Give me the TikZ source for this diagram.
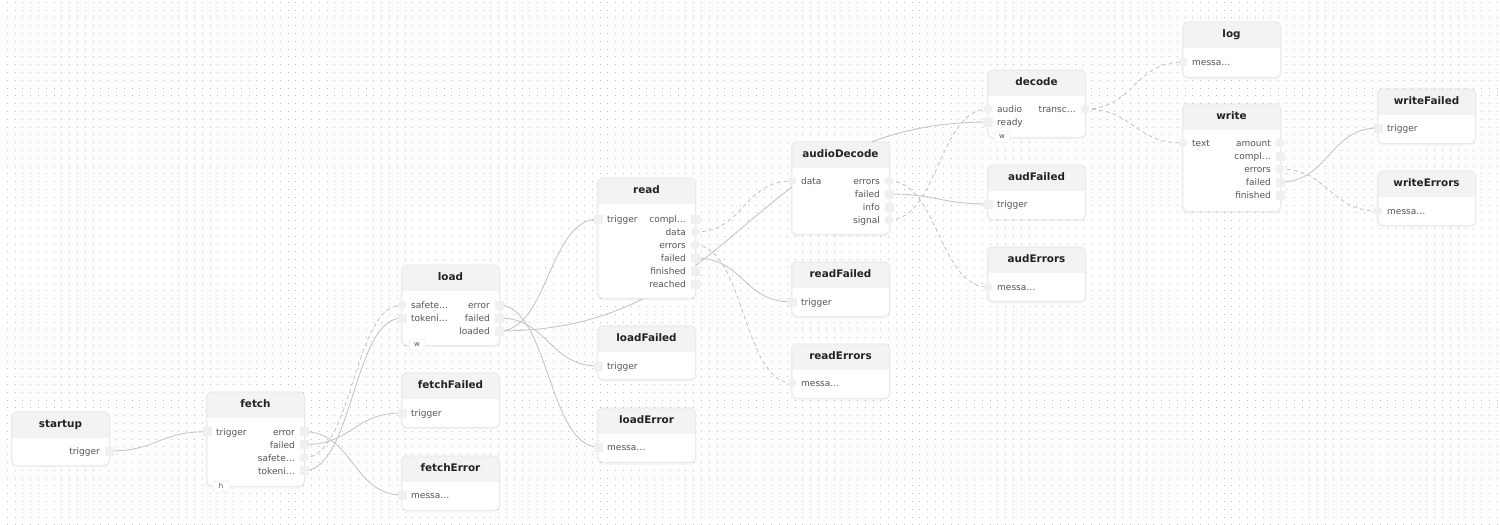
\documentclass[tikz,border=0pt]{standalone}
\usepackage{fontspec}
\setmainfont{DejaVu Sans}
\usetikzlibrary{calc}
\definecolor{dotc}{HTML}{BDBDBD}
\definecolor{edgec}{HTML}{C6C6C6}
\definecolor{headc}{HTML}{F3F3F3}
\definecolor{bordc}{HTML}{E6E6E6}
\definecolor{portc}{HTML}{F0F0F0}
\definecolor{labc}{HTML}{555555}
\definecolor{titc}{HTML}{222222}
\pgfdeclarelayer{bg}
\pgfdeclarelayer{edges}
\pgfsetlayers{bg,edges,main}
\tikzset{
  boxs/.style={rectangle, anchor=north west, minimum width=97, inner sep=0, fill=white, rounded corners=5},
  titlestyle/.style={anchor=base, inner sep=0, text=titc, font=\bfseries\fontsize{10.4}{12}\selectfont},
  lab/.style={inner sep=0, text=labc, font=\fontsize{9}{10}\selectfont},
  sqport/.style={rectangle, minimum size=9, inner sep=0, fill=portc},
  ciport/.style={circle, minimum size=9, inner sep=0, fill=portc},
  tabstyle/.style={rectangle, draw=bordc, fill=white, rounded corners=3, minimum width=16, minimum height=11, inner sep=0, text=labc, font=\fontsize{7}{7}\selectfont},
  edgeline/.style={draw=edgec, line width=0.9},
  dashedge/.style={draw=edgec, line width=0.9, dash pattern=on 4pt off 3pt},
}
\newcommand\flowbox[5]{%
  \fill[black, opacity=0.025, rounded corners=7] (#2-2,#3-1.5) rectangle (#2+99,#3+#4+3);
  \fill[black, opacity=0.03, rounded corners=6] (#2-1,#3-0.5) rectangle (#2+98,#3+#4+1.5);
  \node[boxs, minimum height=#4] (#1) at (#2,#3) {};
  \begin{scope}
    \clip[rounded corners=5] (#2,#3) rectangle (#2+97,#3+#4);
    \fill[headc] (#2,#3) rectangle (#2+97,#3+26);
  \end{scope}
  \draw[bordc, line width=0.5, rounded corners=5] (#1.north west) rectangle (#1.south east);
  \node[titlestyle] (#1-title) at (#2+48.5,#3+15) {#5};
}
\newcommand\pin[6]{%
  \node[#6] (#1-#2) at (#3,#4) {};
  \node[lab, anchor=mid west] (#1-#2-l) at (#3+9,#4+0.8) {#5};
}
\newcommand\pout[6]{%
  \node[#6] (#1-#2) at (#3+97,#4) {};
  \node[lab, anchor=mid east] (#1-#2-l) at (#3+88,#4+0.8) {#5};
}
\newcommand\flowedge[4]{%
  \draw[#3] (#1.center) .. controls +(#4,0) and +(-#4,0) .. (#2.center);
}
\begin{document}
\begin{tikzpicture}[x=1pt,y=-1pt]
\useasboundingbox (0,0) rectangle (1500,525);
\begin{pgfonlayer}{bg}
  \fill[white] (0,0) rectangle (1500,525);
  \foreach \k in {0,...,67} {
    \draw[dotc, line width=1, dash pattern=on 1pt off 6.8pt] (6.8,2.3+7.8*\k) -- (1500,2.3+7.8*\k);
  }
\end{pgfonlayer}

% startup
\flowbox{startup}{12}{412}{53}{startup}
\pout{startup}{trigger}{12}{451}{trigger}{sqport}

% fetch
\flowbox{fetch}{207}{392}{94}{fetch}
\pin{fetch}{trigger}{207}{431.7}{trigger}{sqport}
\pout{fetch}{error}{207}{431.7}{error}{sqport}
\pout{fetch}{failed}{207}{444.7}{failed}{sqport}
\pout{fetch}{safe}{207}{457.7}{safete…}{ciport}
\pout{fetch}{token}{207}{470.7}{tokeni…}{sqport}
\node[tabstyle] (fetch-tab) at (221,486) {h};

% load
\flowbox{load}{402}{265}{80}{load}
\pin{load}{safe}{402}{305}{safete…}{ciport}
\pin{load}{token}{402}{318}{tokeni…}{sqport}
\pout{load}{error}{402}{305}{error}{sqport}
\pout{load}{failed}{402}{318}{failed}{sqport}
\pout{load}{loaded}{402}{331}{loaded}{sqport}
\node[tabstyle] (load-tab) at (417,345) {w};

% fetchFailed, fetchError
\flowbox{fetchFailed}{402}{373}{54}{fetchFailed}
\pin{fetchFailed}{trigger}{402}{413}{trigger}{sqport}
\flowbox{fetchError}{402}{456}{54}{fetchError}
\pin{fetchError}{messa}{402}{495}{messa…}{sqport}

% read
\flowbox{read}{598}{178}{120}{read}
\pin{read}{trigger}{598}{219}{trigger}{sqport}
\pout{read}{compl}{598}{219}{compl…}{sqport}
\pout{read}{data}{598}{232}{data}{ciport}
\pout{read}{errors}{598}{245}{errors}{ciport}
\pout{read}{failed}{598}{258}{failed}{sqport}
\pout{read}{finished}{598}{271}{finished}{sqport}
\pout{read}{reached}{598}{284}{reached}{sqport}

% loadFailed, loadError
\flowbox{loadFailed}{598}{326}{53}{loadFailed}
\pin{loadFailed}{trigger}{598}{366}{trigger}{sqport}
\flowbox{loadError}{598}{408}{54}{loadError}
\pin{loadError}{messa}{598}{447}{messa…}{sqport}

% audioDecode
\flowbox{audioDecode}{792}{142}{92}{audioDecode}
\pin{audioDecode}{data}{792}{181}{data}{ciport}
\pout{audioDecode}{errors}{792}{181}{errors}{ciport}
\pout{audioDecode}{failed}{792}{194}{failed}{sqport}
\pout{audioDecode}{info}{792}{207}{info}{sqport}
\pout{audioDecode}{signal}{792}{220}{signal}{ciport}

% readFailed, readErrors
\flowbox{readFailed}{792}{262}{54}{readFailed}
\pin{readFailed}{trigger}{792}{302}{trigger}{sqport}
\flowbox{readErrors}{792}{344}{54}{readErrors}
\pin{readErrors}{messa}{792}{383}{messa…}{ciport}

% decode
\flowbox{decode}{988}{70}{67}{decode}
\pin{decode}{audio}{988}{109}{audio}{ciport}
\pin{decode}{ready}{988}{122}{ready}{sqport}
\pout{decode}{transc}{988}{109}{transc…}{ciport}
\node[tabstyle] (decode-tab) at (1002,137) {w};

% audFailed, audErrors
\flowbox{audFailed}{988}{165}{54}{audFailed}
\pin{audFailed}{trigger}{988}{204}{trigger}{sqport}
\flowbox{audErrors}{988}{247}{54}{audErrors}
\pin{audErrors}{messa}{988}{287}{messa…}{ciport}

% log, write
\flowbox{log}{1183}{22}{55}{log}
\pin{log}{messa}{1183}{62}{messa…}{ciport}
\flowbox{write}{1183}{104}{107}{write}
\pin{write}{text}{1183}{143}{text}{ciport}
\pout{write}{amount}{1183}{143}{amount}{ciport}
\pout{write}{compl}{1183}{156}{compl…}{sqport}
\pout{write}{errors}{1183}{169}{errors}{ciport}
\pout{write}{failed}{1183}{182}{failed}{sqport}
\pout{write}{finished}{1183}{195}{finished}{sqport}

% writeFailed, writeErrors
\flowbox{writeFailed}{1378}{89}{54}{writeFailed}
\pin{writeFailed}{trigger}{1378}{128}{trigger}{sqport}
\flowbox{writeErrors}{1378}{171}{54}{writeErrors}
\pin{writeErrors}{messa}{1378}{211}{messa…}{ciport}

\begin{pgfonlayer}{edges}
\flowedge{startup-trigger}{fetch-trigger}{edgeline}{49}
\flowedge{fetch-error}{fetchError-messa}{edgeline}{49}
\flowedge{fetch-failed}{fetchFailed-trigger}{edgeline}{49}
\flowedge{fetch-safe}{load-safe}{dashedge}{49}
\flowedge{fetch-token}{load-token}{edgeline}{49}
\flowedge{load-error}{loadError-messa}{edgeline}{49}
\flowedge{load-failed}{loadFailed-trigger}{edgeline}{49}
\flowedge{load-loaded}{read-trigger}{edgeline}{49}
\flowedge{load-loaded}{decode-ready}{edgeline}{243}
\flowedge{read-data}{audioDecode-data}{dashedge}{49}
\flowedge{read-errors}{readErrors-messa}{dashedge}{49}
\flowedge{read-failed}{readFailed-trigger}{edgeline}{49}
\flowedge{audioDecode-errors}{audErrors-messa}{dashedge}{49}
\flowedge{audioDecode-failed}{audFailed-trigger}{edgeline}{49}
\flowedge{audioDecode-signal}{decode-audio}{dashedge}{49}
\flowedge{decode-transc}{log-messa}{dashedge}{49}
\flowedge{decode-transc}{write-text}{dashedge}{49}
\flowedge{write-failed}{writeFailed-trigger}{edgeline}{49}
\flowedge{write-errors}{writeErrors-messa}{dashedge}{49}
\end{pgfonlayer}
\end{tikzpicture}
\end{document}
